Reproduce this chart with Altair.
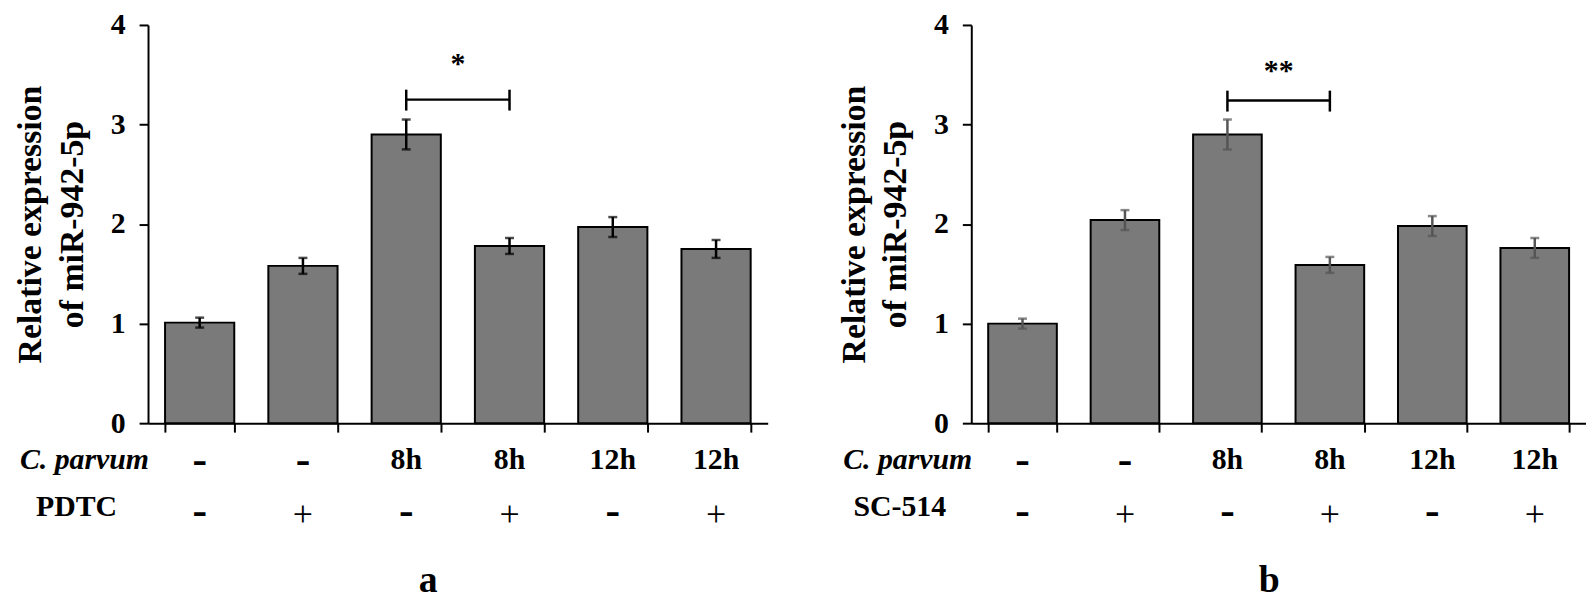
import altair as alt
import pandas as pd

# ---- data ----
groups = ["g1", "g2", "g3", "g4", "g5", "g6"]
cparvum_row = ["-", "-", "8h", "8h", "12h", "12h"]
inhibitor_row = ["-", "+", "-", "+", "-", "+"]

a_mean = [1.01, 1.58, 2.90, 1.78, 1.97, 1.75]
a_err = [0.05, 0.08, 0.15, 0.08, 0.10, 0.09]
b_mean = [1.00, 2.04, 2.90, 1.59, 1.98, 1.76]
b_err = [0.05, 0.10, 0.15, 0.08, 0.10, 0.10]

y_ticks = [0, 1, 2, 3, 4]

a_sig = {"from": "g3", "to": "g4", "y": 3.25, "lo": 3.14, "hi": 3.35, "star": "*", "ystar": 3.52}
b_sig = {"from": "g3", "to": "g4", "y": 3.24, "lo": 3.13, "hi": 3.34, "star": "**", "ystar": 3.45}

FONT = "Liberation Serif"
H = 401


def panel(means, errs, sig, inhibitor_name, letter, err_color, width, letter_x):
    df = pd.DataFrame({
        "grp": groups,
        "mean": means,
        "lo": [m - e for m, e in zip(means, errs)],
        "hi": [m + e for m, e in zip(means, errs)],
        "cp": cparvum_row,
        "inh": inhibitor_row,
    })
    xs = alt.X("grp:N", sort=groups)
    xscale = alt.Scale(domain=groups, paddingInner=0.33, paddingOuter=0.165)
    xax = alt.Axis(
        title=None, labels=False, tickBand="extent", domainColor="black",
        domainWidth=2, tickColor="black", tickWidth=2, tickSize=9,
    )
    yax = alt.Axis(
        title=["Relative expression", "of miR-942-5p"], values=y_ticks, grid=False,
        format="d",
        domainColor="black", domainWidth=2, tickColor="black", tickWidth=2, tickSize=9,
        labelFont=FONT, labelFontSize=30, labelFontWeight="bold", labelColor="black",
        labelPadding=14,
        titleFont=FONT, titleFontSize=34, titleFontWeight="bold", titleColor="black",
        titleLineHeight=42, titleAngle=-90, titleAlign="center", titleBaseline="middle",
        titleX=-118, titleY=H / 2,
    )
    base = alt.Chart(df)
    bars = base.mark_bar(fill="#7a7a7a", stroke="black", strokeWidth=2).encode(
        x=alt.X("grp:N", scale=xscale, axis=xax, sort=groups),
        y=alt.Y("mean:Q", scale=alt.Scale(domain=[0, 4], nice=False), axis=yax),
    )
    err = base.mark_rule(color=err_color, strokeWidth=2.5).encode(x=xs, y="lo:Q", y2="hi:Q")
    cap_lo = base.mark_tick(color=err_color, size=9, thickness=2.5).encode(x=xs, y="lo:Q")
    cap_hi = base.mark_tick(color=err_color, size=9, thickness=2.5).encode(x=xs, y="hi:Q")

    sdf = pd.DataFrame([sig])
    sbase = alt.Chart(sdf)
    bracket = sbase.mark_rule(color="black", strokeWidth=2.5).encode(
        x=alt.X("from:N", sort=groups), x2="to:N", y="y:Q"
    )
    ends = pd.DataFrame({"grp": [sig["from"], sig["to"]], "lo": [sig["lo"]] * 2, "hi": [sig["hi"]] * 2})
    bracket_ends = alt.Chart(ends).mark_rule(color="black", strokeWidth=2.5).encode(
        x=xs, y="lo:Q", y2="hi:Q"
    )
    star = sbase.mark_text(
        font=FONT, fontSize=30, fontWeight="bold", color="black",
        baseline="alphabetic", align="center", dx=width / 12.0,
    ).encode(x=alt.X("from:N", sort=groups), y="ystar:Q", text="star:N")

    txt = dict(font=FONT, color="black", baseline="alphabetic", align="center")
    row1_words = base.transform_filter("datum.cp != '-'").mark_text(
        fontSize=30, fontWeight="bold", **txt
    ).encode(x=xs, y=alt.value(H + 46), text="cp:N")
    row1_dash = base.transform_filter("datum.cp == '-'").mark_text(
        fontSize=44, fontWeight="bold", **txt
    ).encode(x=xs, y=alt.value(H + 51), text="cp:N")
    row2_minus = base.transform_filter("datum.inh == '-'").mark_text(
        fontSize=44, fontWeight="bold", **txt
    ).encode(x=xs, y=alt.value(H + 103), text="inh:N")
    row2_plus = base.transform_filter("datum.inh == '+'").mark_text(
        fontSize=36, fontWeight="normal", **txt
    ).encode(x=xs, y=alt.value(H + 104), text="inh:N")

    names = pd.DataFrame({"cpname": ["C. parvum"], "inhname": [inhibitor_name], "letter": [letter]})
    nbase = alt.Chart(names)
    cp_name = nbase.mark_text(
        font=FONT, fontSize=30, fontWeight="bold", fontStyle="italic", color="black",
        align="right", baseline="alphabetic",
    ).encode(x=alt.value(1), y=alt.value(H + 46), text="cpname:N")
    inh_name = nbase.mark_text(
        font=FONT, fontSize=30, fontWeight="bold", color="black",
        align="center", baseline="alphabetic",
    ).encode(x=alt.value(-72), y=alt.value(H + 93), text="inhname:N")
    letter_mark = nbase.mark_text(
        font=FONT, fontSize=38, fontWeight="bold", color="black",
        align="center", baseline="alphabetic",
    ).encode(x=alt.value(letter_x), y=alt.value(H + 170), text="letter:N")

    return alt.layer(
        bars, err, cap_lo, cap_hi, bracket, bracket_ends, star,
        row1_words, row1_dash, row2_minus, row2_plus, cp_name, inh_name, letter_mark,
    ).properties(width=width, height=H)


pa = panel(a_mean, a_err, a_sig, "PDTC", "a", "black", 624, 282)
pb = panel(b_mean, b_err, b_sig, "SC-514", "b", "#555555", 619, 300)

chart = alt.hconcat(pa, pb, spacing=69).properties(
    padding={"left": 5, "top": 0, "right": 0, "bottom": 0},
    background="white",
).configure_view(stroke=None)

chart.save("out.html", embed_options={"renderer": "svg", "actions": False})
